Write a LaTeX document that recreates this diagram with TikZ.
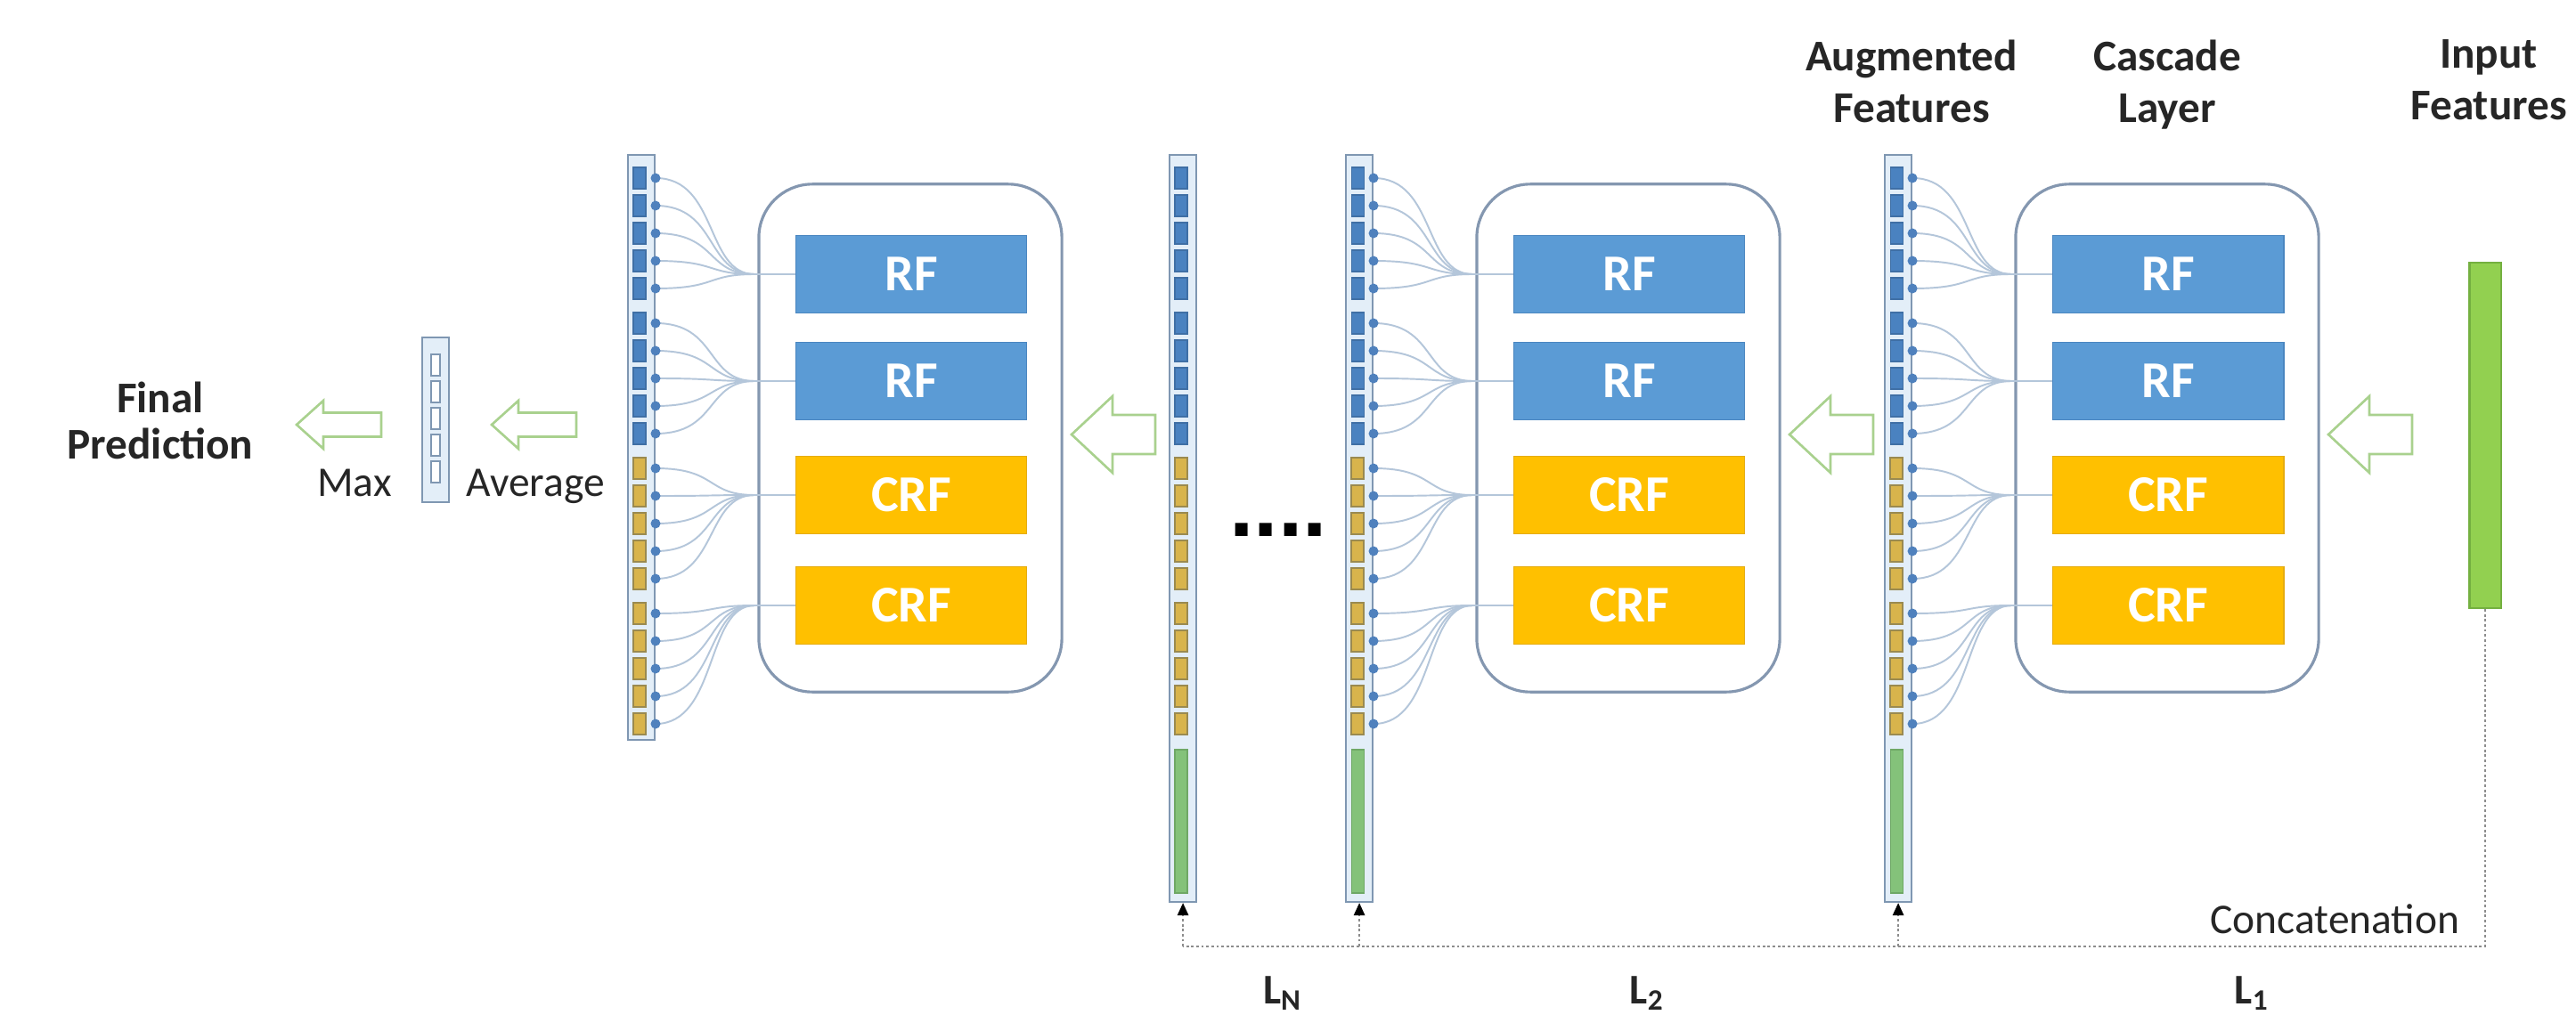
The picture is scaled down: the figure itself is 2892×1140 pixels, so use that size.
\documentclass[tikz,border=0pt]{standalone}
\usepackage{fontspec}
\setmainfont{Carlito}
\newfontfamily\dotfont{Liberation Sans}
\usetikzlibrary{arrows.meta}
\definecolor{rfblue}{HTML}{5B9BD5}
\definecolor{rfborder}{HTML}{4A86C0}
\definecolor{crfyel}{HTML}{FFC000}
\definecolor{crfborder}{HTML}{E5AC10}
\definecolor{boxline}{HTML}{8497B0}
\definecolor{vecfill}{HTML}{E3EEF8}
\definecolor{vecline}{HTML}{7F97B2}
\definecolor{cellblue}{HTML}{4A82C0}
\definecolor{cellblueline}{HTML}{3F6FA5}
\definecolor{cellyel}{HTML}{D8B44C}
\definecolor{cellyelline}{HTML}{9A8A50}
\definecolor{vecgreen}{HTML}{84C27A}
\definecolor{vecgreenline}{HTML}{6FA866}
\definecolor{inputgreen}{HTML}{92D050}
\definecolor{inputgreenline}{HTML}{74B040}
\definecolor{fanline}{HTML}{B4C6DA}
\definecolor{dotblue}{HTML}{4F81BD}
\definecolor{arrowgreen}{HTML}{A9D18E}
\definecolor{txt}{HTML}{262626}
\definecolor{concatgray}{HTML}{8C8C8C}
\tikzset{
  rfbox/.style={draw=rfborder, fill=rfblue, line width=0.5pt, minimum width=2.59cm, minimum height=0.87cm, text=white, font=\fontsize{16.5}{18}\selectfont\bfseries, inner sep=0pt},
  crfbox/.style={rfbox, draw=crfborder, fill=crfyel, text=white},
  casc/.style={draw=boxline, line width=0.9pt, fill=white, rounded corners=0.6cm, minimum width=3.4cm, minimum height=5.7cm, inner sep=0pt},
  vecbox/.style={draw=vecline, fill=vecfill, line width=0.6pt, minimum width=0.3cm, inner sep=0pt, anchor=north west},
  inbar/.style={draw=inputgreenline, fill=inputgreen, line width=0.6pt, minimum width=0.35cm, minimum height=3.88cm, inner sep=0pt},
  cellb/.style={fill=cellblue, draw=cellblueline, line width=0.3pt},
  celly/.style={fill=cellyel, draw=cellyelline, line width=0.4pt},
  cellg/.style={fill=vecgreen, draw=vecgreenline, line width=0.3pt},
  cellw/.style={fill=white, draw=vecline, line width=0.5pt},
  fan/.style={draw=fanline, line width=0.55pt},
  fandot/.style={fill=dotblue},
  harrow/.style={draw=arrowgreen, fill=white, line width=0.75pt, line join=miter},
  concat/.style={draw=concatgray, line width=0.6pt, dash pattern=on 0.8pt off 0.8pt},
  title/.style={font=\fontsize{14}{16.5}\selectfont\bfseries, text=txt, align=center, inner sep=0pt},
  lbl/.style={font=\fontsize{13.5}{16}\selectfont, text=txt, inner sep=0pt},
}
\newcommand\HArrowShape[6]{\draw[harrow] (#1,#2) -- ({#1+#4},{#2-#5}) -- ({#1+#4},{#2-#6}) -- ({#1+#3},{#2-#6}) -- ({#1+#3},{#2+#6}) -- ({#1+#4},{#2+#6}) -- ({#1+#4},{#2+#5}) -- cycle;}
\newcommand\FeatVec[4]{%
  \node[vecbox, minimum height={(#3-173)*0.01cm}] (vec#1) at (#2,173) {};
  \foreach \gi in {0,1}{\foreach \ki in {0,...,4}{
     \pgfmathsetmacro\yy{200+163*\gi+31*\ki}
     \draw[cellb] ({#2+7},{\yy-12}) rectangle ({#2+21},{\yy+12});}}
  \foreach \gi in {2,3}{\foreach \ki in {0,...,4}{
     \pgfmathsetmacro\yy{200+163*\gi+31*\ki}
     \draw[celly] ({#2+7},{\yy-12}) rectangle ({#2+21},{\yy+12});}}
  \ifnum#4=1 \draw[cellg] ({#2+7},842) rectangle ({#2+21},1003);\fi
}
\newcommand\CascStage[3]{%
  \node[casc] (box#1) at (#2,492) {};
  \node[rfbox] (rf#10) at ({#2+1},308) {RF};
  \node[rfbox] (rf#11) at ({#2+1},428) {RF};
  \node[crfbox] (rf#12) at ({#2+1},556) {CRF};
  \node[crfbox] (rf#13) at ({#2+1},680) {CRF};
  \foreach \gi/\ry in {0/308,1/428,2/556,3/680}{
    \coordinate (cv#1\gi) at ({#2-175},\ry);
    \foreach \ki in {0,...,4}{
      \pgfmathsetmacro\yy{200+163*\gi+31*\ki}
      \coordinate (dot#1\gi\ki) at ({#3+32},\yy);
      \draw[fan] (dot#1\gi\ki) .. controls +(70,0) and +(-55,0) .. (cv#1\gi);
    }
    \draw[fan, line width=0.8pt] (cv#1\gi) -- (rf#1\gi.west);
  }
  \foreach \gi in {0,...,3}{\foreach \ki in {0,...,4}{\fill[fandot] (dot#1\gi\ki) circle[radius=0.055cm];}}
}
\begin{document}
\begin{tikzpicture}[x=0.01cm,y=-0.01cm]
\fill[white] (0,0) rectangle (2892,1140);
\useasboundingbox (0,0) rectangle (2892,1140);
% titles
\node[title, anchor=north] (tAug) at (2146,44) {Augmented\\Features};
\node[title, anchor=north] (tCas) at (2433,44) {Cascade\\Layer};
\node[title, anchor=north] (tInp) at (2794,44) {Input\\Features};
% stages
\FeatVec{A}{2115}{1012}{1}
\CascStage{A}{2433}{2115}
\FeatVec{B}{1510}{1012}{1}
\CascStage{B}{1828}{1510}
\FeatVec{N}{1312}{1012}{1}
\FeatVec{C}{704}{830}{0}
\CascStage{C}{1022}{704}
% input bar
\node[inbar] (inp) at (2790,489) {};
% hollow arrows
\HArrowShape{2614}{488}{94}{46}{43}{22}
\HArrowShape{2009}{488}{94}{46}{43}{22}
\HArrowShape{1203}{488}{94}{46}{43}{22}
\HArrowShape{552}{477}{95}{30}{27}{13.5}
\HArrowShape{333}{477}{95}{30}{27}{13.5}
% averaged vector
\node[vecbox, minimum height=1.85cm] (avgvec) at (473,378) {};
\foreach \ki in {0,...,4}{\draw[cellw] (484,{398+30*\ki}) rectangle (494,{422+30*\ki});}
% labels
\node[title, anchor=north, font=\fontsize{14}{15}\selectfont\bfseries] (tFin) at (180,428) {Final\\Prediction};
\node[lbl, anchor=base] (tMax) at (398,557) {Max};
\node[lbl, anchor=base] (tAvg) at (601,557) {Average};
\node[font=\dotfont\fontsize{28}{28}\selectfont\bfseries, anchor=base, inner sep=0pt] (dots) at (1435,602) {....};
\node[lbl, anchor=base east] (tCon) at (2762,1048) {Concatenation};
\node[lbl, anchor=base, font=\fontsize{13.5}{16}\selectfont\bfseries] (tLN) at (1440,1127) {L\textsubscript{N}};
\node[lbl, anchor=base, font=\fontsize{13.5}{16}\selectfont\bfseries] (tL2) at (1849,1127) {L\textsubscript{2}};
\node[lbl, anchor=base, font=\fontsize{13.5}{16}\selectfont\bfseries] (tL1) at (2528,1127) {L\textsubscript{1}};
% concatenation lines
\coordinate (cline) at (0,1063);
\draw[concat] (inp.south) |- (vecN.south |- cline);
\foreach \v in {N,B,A}{
  \draw[concat, -{Triangle[length=4pt,width=3.5pt,color=black]}] (vec\v.south |- cline) -- (vec\v.south);
}
\end{tikzpicture}
\end{document}
